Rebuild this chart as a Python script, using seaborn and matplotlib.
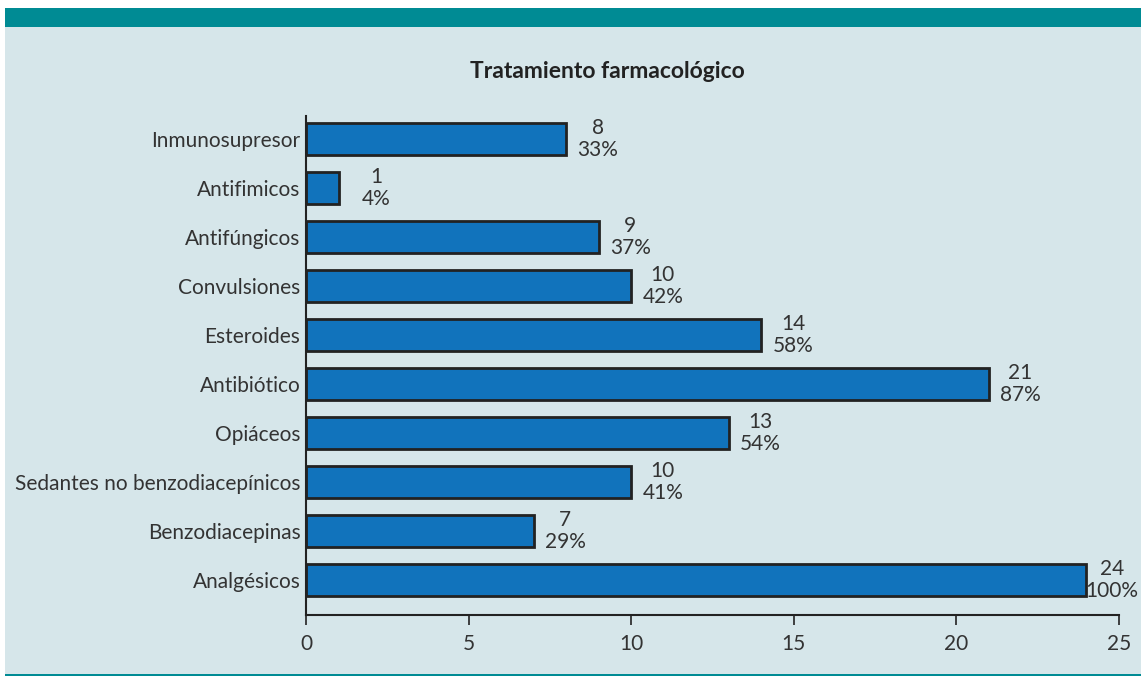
import matplotlib
matplotlib.use('Agg')
import matplotlib.pyplot as plt
import seaborn as sns
import pandas as pd
from matplotlib.patches import Rectangle

# Datos del gráfico (de arriba hacia abajo)
categorias = ['Inmunosupresor', 'Antifimicos', 'Antifúngicos', 'Convulsiones',
              'Esteroides', 'Antibiótico', 'Opiáceos',
              'Sedantes no benzodiacepínicos', 'Benzodiacepinas', 'Analgésicos']
casos = [8, 1, 9, 10, 14, 21, 13, 10, 7, 24]
porcentajes = [33, 4, 37, 42, 58, 87, 54, 41, 29, 100]
ticks_x = [0, 5, 10, 15, 20, 25]

df = pd.DataFrame({'categoria': categorias, 'casos': casos, 'pct': porcentajes})

sns.set_style('white')
plt.rcParams['font.family'] = ['Lato', 'DejaVu Sans']

fondo = '#d6e6ea'
verde = '#008b94'
texto = '#333333'

fig = plt.figure(figsize=(11.41, 6.76), dpi=100)
fig.patch.set_facecolor('white')

# fondo y banda superior
fig.add_artist(Rectangle((5 / 1141, 0), 1 - 5 / 1141, 1 - 27 / 676,
                         transform=fig.transFigure, facecolor=fondo, edgecolor='none', zorder=-2))
fig.add_artist(Rectangle((5 / 1141, 1 - 27 / 676), 1 - 5 / 1141, 19 / 676,
                         transform=fig.transFigure, facecolor=verde, edgecolor='none', zorder=-1))
fig.add_artist(Rectangle((5 / 1141, 0), 1 - 5 / 1141, 2 / 676,
                         transform=fig.transFigure, facecolor=verde, edgecolor='none', zorder=-1))

ax = fig.add_axes([306 / 1141, 1 - 615 / 676, (1119 - 306) / 1141, (615 - 116) / 676])
ax.set_facecolor('none')

sns.barplot(data=df, x='casos', y='categoria', order=categorias, orient='h',
            color='#1173bc', saturation=1, width=0.65,
            edgecolor='#222222', linewidth=2, ax=ax)

for i, (c, p) in enumerate(zip(casos, porcentajes)):
    ax.annotate(f'{c}\n{p}%', xy=(c, i), xytext=(52, 0), textcoords='offset pixels',
                ha='right', va='center', multialignment='center',
                fontsize=15, color=texto, linespacing=1.1, annotation_clip=False)

ax.set_xlim(0, 25)
ax.set_ylim(9.71, -0.47)
ax.set_xticks(ticks_x)
ax.set_xlabel('')
ax.set_ylabel('')

for s in ['top', 'right']:
    ax.spines[s].set_visible(False)
for s in ['left', 'bottom']:
    ax.spines[s].set_color('#222222')
    ax.spines[s].set_linewidth(1.5)

ax.tick_params(axis='x', direction='out', length=7.5, width=1.2, color='#222222',
               labelsize=15, labelcolor=texto, pad=6, bottom=True)
ax.tick_params(axis='y', length=0, labelsize=15, labelcolor=texto, pad=4)

fig.text(607 / 1141, 1 - 72 / 676, 'Tratamiento farmacológico', ha='center', va='center',
         fontsize=16.5, fontweight='bold', color='#222222')

fig.savefig('out.png', dpi=100, facecolor=fig.get_facecolor())
